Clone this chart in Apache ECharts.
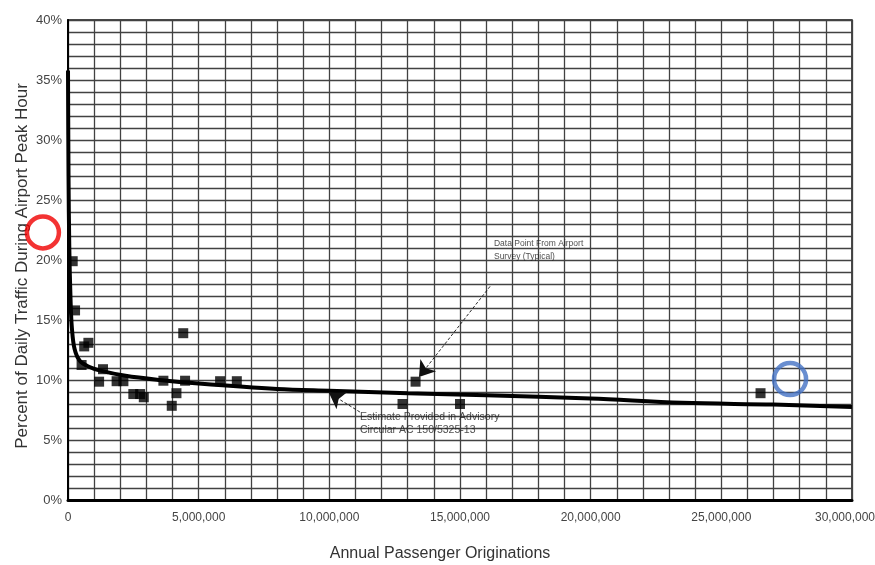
<!DOCTYPE html>
<html>
<head>
<meta charset="utf-8">
<script src="https://cdn.jsdelivr.net/npm/echarts@6/dist/echarts.min.js"></script>
<style>
  html, body { margin: 0; padding: 0; background: #fff; }
  #chart { width: 875px; height: 565px; }
</style>
</head>
<body>
<div id="chart"></div>
<script>
// Axis ticks
const xTicks = [0, 5000000, 10000000, 15000000, 20000000, 25000000, 30000000];
const yTicks = [0, 5, 10, 15, 20, 25, 30, 35, 40];

// Survey data points: [annual passenger originations, percent of daily traffic in peak hour]
const surveyPoints = [
  [180000, 19.9], [270000, 15.8], [520000, 11.25], [620000, 12.8], [780000, 13.1],
  [1190000, 9.86], [1340000, 10.9], [1860000, 9.9], [2120000, 9.9],
  [2500000, 8.83], [2760000, 8.83], [2900000, 8.56],
  [3650000, 9.94], [3970000, 7.85], [4150000, 8.9], [4410000, 13.9], [4480000, 9.94],
  [5820000, 9.9], [6460000, 9.9],
  [12800000, 8.0], [13300000, 9.86], [15000000, 8.0],
  [26500000, 8.9]
];

// Advisory circular estimate curve
const estimateCurve = [
  [0, 35.8], [20000, 27], [50000, 21], [100000, 16.5], [150000, 14.3],
  [250000, 12.6], [450000, 11.6], [800000, 11.1], [1200000, 10.8],
  [2200000, 10.35], [3500000, 10.0], [5000000, 9.7], [8000000, 9.25],
  [10000000, 9.1], [13000000, 8.9], [16000000, 8.73], [20000000, 8.45],
  [23500000, 8.1], [27000000, 7.95], [30000000, 7.75]
];

// Callouts: text anchor and arrow (from -> tip)
const noteSurvey = { text: 'Data Point From Airport\nSurvey (Typical)', at: [16300000, 20.8],
                     from: [16150000, 17.8], to: [13430000, 10.25] };
const noteEstimate = { text: 'Estimate Provided in Advisory\nCircular AC 150/5325-13', at: [11170000, 6.4],
                       from: [11170000, 7.33], to: [9990000, 8.92] };

// Highlight rings
const ringRed = [[-960000, 22.3]];
const ringBlue = [[27630000, 10.08]];

const sans = "'Liberation Sans', Arial, sans-serif";
const gridColor = '#424242';

const chart = echarts.init(document.getElementById('chart'), null, { renderer: 'canvas' });

chart.setOption({
  animation: false,
  backgroundColor: '#fff',
  grid: {
    left: 68, right: 23, top: 20, bottom: 65,
    outerBoundsMode: 'none',
    containLabel: false,
    show: true, borderColor: '#111', borderWidth: 1.5
  },
  xAxis: {
    type: 'value',
    min: xTicks[0], max: xTicks[xTicks.length - 1], interval: 5000000,
    name: 'Annual Passenger Originations',
    nameLocation: 'middle', nameGap: 46,
    nameMoveOverlap: false,
    nameTextStyle: { fontFamily: sans, fontSize: 16, color: '#333', padding: [0, 40, 0, 0] },
    axisLine: { show: true, lineStyle: { color: '#000', width: 3 } },
    axisTick: { show: false },
    axisLabel: {
      margin: 12, fontFamily: sans, fontSize: 12, color: '#444',
      // keep the last label inside the page edge
      formatter: v => v === xTicks[xTicks.length - 1]
        ? '{last|' + v.toLocaleString('en-US') + '}'
        : v.toLocaleString('en-US'),
      rich: { last: { fontFamily: sans, fontSize: 12, color: '#444', padding: [0, 14, 0, 0] } }
    },
    splitLine: { show: true, lineStyle: { color: gridColor, width: 1.3 } },
    minorTick: { show: false, splitNumber: 5 },
    minorSplitLine: { show: true, lineStyle: { color: gridColor, width: 1.3 } }
  },
  yAxis: {
    type: 'value',
    min: yTicks[0], max: yTicks[yTicks.length - 1], interval: 5,
    name: 'Percent of Daily Traffic During Airport Peak Hour',
    nameLocation: 'middle', nameGap: 37,
    nameMoveOverlap: false,
    nameTextStyle: { fontFamily: sans, fontSize: 17, color: '#333', padding: [0, 12, 0, 0] },
    axisLine: { show: true, lineStyle: { color: '#000', width: 2 } },
    axisTick: { show: false },
    axisLabel: {
      margin: 6, fontFamily: sans, fontSize: 13, color: '#444',
      formatter: v => v + '%'
    },
    splitLine: { show: true, lineStyle: { color: gridColor, width: 1.3 } },
    minorTick: { show: false, splitNumber: 5 },
    minorSplitLine: { show: true, lineStyle: { color: gridColor, width: 1.3 } }
  },
  series: [
    {
      name: 'Estimate',
      type: 'line',
      data: estimateCurve,
      smooth: 0.35,
      showSymbol: false,
      lineStyle: { color: '#000', width: 4 },
      z: 3
    },
    {
      name: 'Survey',
      type: 'scatter',
      data: surveyPoints,
      symbol: 'rect',
      symbolSize: 10,
      itemStyle: { color: '#000' },
      z: 4
    },
    {
      name: 'Callout arrows',
      type: 'lines',
      coordinateSystem: 'cartesian2d',
      data: [
        { coords: [noteSurvey.from, noteSurvey.to] },
        { coords: [noteEstimate.from, noteEstimate.to] }
      ],
      symbol: ['none', 'arrow'],
      symbolSize: [0, 15],
      lineStyle: { color: '#111', width: 0.9, type: [3, 2], opacity: 1 },
      z: 5
    },
    {
      name: 'Callout text',
      type: 'scatter',
      symbolSize: 0,
      data: [
        { value: noteSurvey.at, label: { formatter: noteSurvey.text, fontSize: 8.5, lineHeight: 13 } },
        { value: noteEstimate.at, label: { formatter: noteEstimate.text, fontSize: 10.5, lineHeight: 13 } }
      ],
      label: {
        show: true, position: 'right', distance: 0,
        fontFamily: sans, color: '#222', align: 'left', verticalAlign: 'middle'
      },
      silent: true,
      z: 6
    },
    {
      name: 'Ring red',
      type: 'scatter',
      data: ringRed,
      clip: false,
      symbol: 'circle',
      symbolSize: 32,
      itemStyle: { color: 'rgba(0,0,0,0)', borderColor: '#f00000', borderWidth: 4.5 },
      z: 7
    },
    {
      name: 'Ring blue',
      type: 'scatter',
      data: ringBlue,
      clip: false,
      symbol: 'circle',
      symbolSize: 32,
      itemStyle: { color: 'rgba(0,0,0,0)', borderColor: '#4472c4', borderWidth: 4.5 },
      z: 7
    }
  ]
});
</script>
</body>
</html>
